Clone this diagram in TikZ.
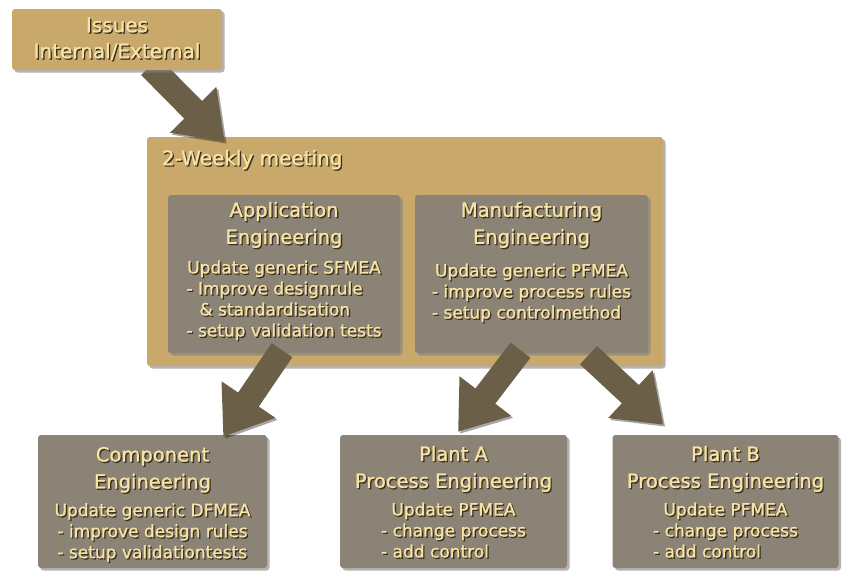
\documentclass[tikz,border=0pt]{standalone}
\usepackage{fontspec}
\setmainfont[FakeBold=1.2,AutoFakeBold=1.2]{DejaVu Sans}
\usetikzlibrary{positioning,shadows,arrows.meta}

\definecolor{tanc}{HTML}{C9A86C}
\definecolor{greyc}{HTML}{8A8376}
\definecolor{arrowc}{HTML}{6C5F48}
\definecolor{creamc}{HTML}{F7E3A3}
\definecolor{shadec}{HTML}{3A3124}

% light letters with a dark offset copy behind them
\newcommand{\emb}[1]{\leavevmode\rlap{\kern1.3pt\raisebox{-1.3pt}{\color{shadec}#1}}#1}

\pgfdeclarelayer{top}
\pgfsetlayers{main,top}

\begin{document}
\begin{tikzpicture}[x=1pt, y=-1pt,
    box/.style={rectangle, rounded corners=3pt, inner sep=0pt,
      drop shadow={shadow xshift=2.5pt, shadow yshift=-2.5pt, opacity=.6}},
    tanbox/.style={box, fill=tanc},
    greybox/.style={box, fill=greyc},
    titletext/.style={text=creamc, font=\fontsize{19.5}{27}\selectfont\bfseries, align=center, inner sep=0pt},
    bodytext/.style={text=creamc, font=\fontsize{17}{21}\selectfont\bfseries, align=center, inner sep=0pt},
    bigarrow/.style={draw=arrowc, line width=25pt, -{Triangle[length=45pt,width=62pt]},
      preaction={draw=black, opacity=.35, transform canvas={shift={(2pt,-2pt)}}}}]
  \useasboundingbox (0,0) rectangle (846,571);

  % meeting frame with its two groups
  \node [tanbox, minimum width=516pt, minimum height=229pt] (meet) at (405,251.5) {};
  \node [text=creamc, font=\fontsize{20}{24}\selectfont\bfseries, inner sep=0pt] (meetlabel) [below right=13pt and 15pt of meet.north west] {\emb{2-Weekly meeting}};
  \node [greybox, minimum width=232pt, minimum height=158pt] (app) at (284,274) {};
  \node [greybox, minimum width=233pt, minimum height=158pt] (man) at (531.5,274) {};
  \node [titletext] (apptitle) [below=7pt of app.north] {\emb{Application}\\\emb{Engineering}};
  \node [bodytext] (appbody) [below=11pt of apptitle] {\emb{Update generic SFMEA}\\
    \begin{tabular}[t]{@{}l@{}}\emb{- Improve designrule}\\\emb{\hspace*{13pt}\& standardisation}\\\emb{- setup validation tests}\end{tabular}};
  \node [titletext] (mantitle) [below=7pt of man.north] {\emb{Manufacturing}\\\emb{Engineering}};
  \node [bodytext] (manbody) [below=14pt of mantitle] {\emb{Update generic PFMEA}\\
    \begin{tabular}[t]{@{}l@{}}\emb{- improve process rules}\\\emb{- setup controlmethod}\end{tabular}};

  % input
  \begin{pgfonlayer}{top}
    \node [tanbox, minimum width=210pt, minimum height=61pt, text=creamc, align=center,
      font=\fontsize{20}{26}\selectfont\bfseries] (issues) at (117,39.5) {\emb{Issues}\\\emb{Internal/External}};
  \end{pgfonlayer}
  \draw [bigarrow] ([shift={(33pt,4pt)}]issues.south) -- ([shift={(78pt,-5pt)}]meet.north west);

  % engineering groups below
  \node [greybox, minimum width=229pt, minimum height=133pt] (comp) at (152.5,501.5) {};
  \node [greybox, minimum width=227pt, minimum height=133pt] (planta) at (453.5,501.5) {};
  \node [greybox, minimum width=226pt, minimum height=133pt] (plantb) at (725.5,501.5) {};
  \node [titletext] (comptitle) [below=12pt of comp.north] {\emb{Component}\\\emb{Engineering}};
  \node [bodytext] (compbody) [below=9pt of comptitle] {\emb{Update generic DFMEA}\\
    \begin{tabular}[t]{@{}l@{}}\emb{- improve design rules}\\\emb{- setup validationtests}\end{tabular}};
  \node [titletext] (plantatitle) [below=11pt of planta.north] {\emb{Plant A}\\\emb{Process Engineering}};
  \node [bodytext] (plantabody) [below=9pt of plantatitle] {\emb{Update PFMEA}\\
    \begin{tabular}[t]{@{}l@{}}\emb{- change process}\\\emb{- add control}\end{tabular}};
  \node [titletext] (plantbtitle) [below=11pt of plantb.north] {\emb{Plant B}\\\emb{Process Engineering}};
  \node [bodytext] (plantbbody) [below=9pt of plantbtitle] {\emb{Update PFMEA}\\
    \begin{tabular}[t]{@{}l@{}}\emb{- change process}\\\emb{- add control}\end{tabular}};

  \draw [bigarrow] ([shift={(-2pt,3pt)}]app.south) -- ([shift={(-44pt,-2pt)}]comp.north east);
  \draw [bigarrow] ([shift={(-11pt,3pt)}]man.south) -- ([shift={(4.5pt,3pt)}]planta.north);
  \draw [bigarrow] ([shift={(57pt,-2pt)}]man.south) -- ([shift={(51pt,10pt)}]plantb.north west);
\end{tikzpicture}
\end{document}
